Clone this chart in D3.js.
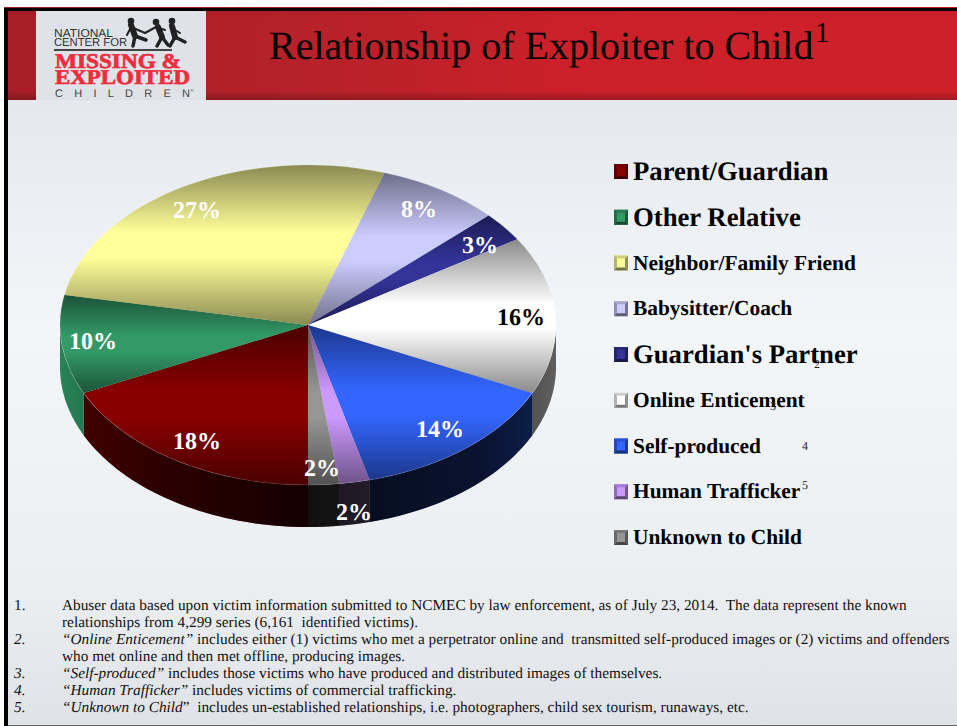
<!DOCTYPE html>
<html>
<head>
<meta charset="utf-8">
<script src="https://cdnjs.cloudflare.com/ajax/libs/d3/7.8.5/d3.min.js"></script>
<style>
html, body { margin: 0; padding: 0; background: #fff; overflow: hidden; }
svg { display: block; }
text { font-family: "Liberation Serif", serif; text-rendering: geometricPrecision; }
</style>
</head>
<body>
<script>
var categories = ["Parent/Guardian", "Other Relative", "Neighbor/Family Friend", "Babysitter/Coach",
  "Guardian's Partner", "Online Enticement", "Self-produced", "Human Trafficker", "Unknown to Child"]
var values = [18, 10, 27, 8, 3, 16, 14, 2, 2]
var topColors = ["#880000", "#339966", "#ffff99", "#ccccff", "#333399", "#ffffff", "#3366ff", "#cc99ff", "#969696"]
var sideColors = ["#4a0000", "#2a8a5c", "#8f8c4c", "#6e6e94", "#16164e", "#6a6a6a", "#12265e", "#5f4a70", "#3c3c3c"]
var legendSizes = [26.7, 26.7, 21.4, 21.4, 26.7, 21.4, 21.4, 21.4, 21.4]
var labelPos = [[197, 441], [93, 341], [197, 210], [419, 209], [480, 245], [521, 317], [440, 429], [322, 468], [354, 512]]
var superscripts = ["2", "3", "4", "5"]
var superPos = [[817, 368], [773, 410], [805, 450], [805, 489]]
var noteNums = ["1.", "", "2.", "", "3.", "4.", "5."]
var noteLines = [
  [["", "Abuser data based upon victim information submitted to NCMEC by law enforcement, as of July 23, 2014.  The data represent the known"]],
  [["", "relationships from 4,299 series (6,161  identified victims)."]],
  [["i", "\u201COnline Enticement\u201D"], ["", " includes either (1) victims who met a perpetrator online and  transmitted self-produced images or (2) victims and offenders"]],
  [["", "who met online and then met offline, producing images."]],
  [["i", "\u201CSelf-produced\u201D"], ["", " includes those victims who have produced and distributed images of themselves."]],
  [["i", "\u201CHuman Trafficker\u201D"], ["", " includes victims of commercial trafficking."]],
  [["i", "\u201CUnknown to Child"], ["", "\u201D  includes un-established relationships, i.e. photographers, child sex tourism, runaways, etc."]]
]

var width = 957, height = 726
var cx = 308, cy = 325, rx = 248, ry = 160, depth = 42

var svg = d3.select("body").append("svg").attr("width", width).attr("height", height)
var defs = svg.append("defs")

function grad(id, dir, stops) {
  var g = defs.append("linearGradient").attr("id", id)
    .attr("x1", 0).attr("y1", 0).attr("x2", dir == "h" ? 1 : 0).attr("y2", dir == "h" ? 0 : 1)
  stops.forEach(function(s) {
    g.append("stop").attr("offset", s[0]).attr("stop-color", s[1]).attr("stop-opacity", s[2] == null ? 1 : s[2])
  })
}
grad("bg", "v", [[0, "#dfe3e8"], [0.45, "#f3f6f9"], [0.8, "#eceff2"], [1, "#dfe2e6"]])
grad("red", "h", [[0, "#a81e26"], [0.3, "#b52129"], [0.6, "#cb2029"], [1, "#cf2029"]])
grad("redB", "v", [[0, "#000", 0.06], [0.12, "#000", 0], [0.9, "#000", 0], [1, "#000", 0.22]])
grad("faceShade", "v", [[0, "#000", 0.46], [0.42, "#000", 0], [0.58, "#000", 0], [1, "#000", 0.46]])
grad("sideShade", "h", [[0, "#000", 0.05], [0.2, "#000", 0.4], [0.5, "#000", 0.72], [0.85, "#000", 0.5], [1, "#000", 0.1]])

// slide background and header
svg.append("rect").attr("x", 0).attr("y", 7).attr("width", width).attr("height", 719).attr("fill", "url(#bg)")
svg.append("rect").attr("x", 0).attr("y", 7).attr("width", width).attr("height", 93).attr("fill", "url(#red)")
svg.append("rect").attr("x", 0).attr("y", 7).attr("width", width).attr("height", 93).attr("fill", "url(#redB)")
svg.append("rect").attr("x", 36).attr("y", 8).attr("width", 170).attr("height", 92).attr("fill", "#dfe3e8")
svg.append("rect").attr("x", 4).attr("y", 8).attr("width", 953).attr("height", 3).attr("fill", "#000")
svg.append("rect").attr("x", 4).attr("y", 8).attr("width", 4).attr("height", 718).attr("fill", "#000")
svg.append("rect").attr("x", 0).attr("y", 7).attr("width", 4).attr("height", 719).attr("fill", "#fff")
svg.append("rect").attr("x", 8).attr("y", 725).attr("width", 949).attr("height", 1).attr("fill", "#666")

svg.append("text").attr("x", 269).attr("y", 59).attr("font-size", 40).attr("fill", "#000")
  .text("Relationship of Exploiter to Child")
svg.append("text").attr("x", 815).attr("y", 42).attr("font-size", 29).attr("fill", "#000").text("1")

// logo
var logo = svg.append("g")
function sans(x, y, size, t, w) {
  logo.append("text").attr("x", x).attr("y", y).attr("font-size", size).attr("fill", "#333")
    .style("font-family", "'Liberation Sans', sans-serif")
    .attr("textLength", w).attr("lengthAdjust", "spacingAndGlyphs").text(t)
}
sans(54, 37, 11.6, "NATIONAL", 59)
sans(54, 46, 11.6, "CENTER FOR", 73)
logo.append("rect").attr("x", 54).attr("y", 49).attr("width", 118).attr("height", 2).attr("fill", "#444")
logo.append("text").attr("x", 55).attr("y", 68).attr("font-size", 21).attr("font-weight", "bold")
  .attr("fill", "#ee2c3c").attr("stroke", "#ee2c3c").attr("stroke-width", 0.7)
  .attr("textLength", 126).attr("lengthAdjust", "spacingAndGlyphs").text("MISSING &")
logo.append("text").attr("x", 55).attr("y", 84).attr("font-size", 21).attr("font-weight", "bold")
  .attr("fill", "#ee2c3c").attr("stroke", "#ee2c3c").attr("stroke-width", 0.7)
  .attr("textLength", 135).attr("lengthAdjust", "spacingAndGlyphs").text("EXPLOITED")
logo.append("text").attr("x", 55).attr("y", 97).attr("font-size", 11).attr("fill", "#444")
  .style("font-family", "'Liberation Sans', sans-serif")
  .attr("textLength", 135).attr("lengthAdjust", "spacing").text("C H I L D R E N")
logo.append("text").attr("x", 190).attr("y", 92).attr("font-size", 5).attr("fill", "#444").text("\u00AE")

var kidHeads = [[131, 21], [156, 22], [172, 21]]
var kidLimbs = [
  [[[131, 25], [135, 36]], 6], [[[135, 36], [133, 46]], 3.5], [[[135, 36], [146, 40]], 3.5], [[[127, 35], [131, 27], [145, 33]], 2],
  [[[158, 27], [162, 37]], 6], [[[162, 37], [157, 46]], 3.5], [[[162, 37], [168, 45]], 3.5], [[[145, 33], [156, 27], [165, 30]], 2],
  [[[172, 26], [175, 37]], 6], [[[175, 37], [170, 46]], 3.5], [[[175, 37], [185, 42]], 3.5], [[[172, 28], [180, 33]], 2]
]
kidHeads.forEach(function(h) {
  logo.append("circle").attr("cx", h[0]).attr("cy", h[1]).attr("r", 3.3).attr("fill", "#222")
})
kidLimbs.forEach(function(l) {
  logo.append("path").attr("fill", "none").attr("stroke", "#222").attr("stroke-width", l[1])
    .attr("stroke-linecap", "round").attr("stroke-linejoin", "round").attr("d", d3.line()(l[0]))
})

// 3d pie
var pie = d3.pie().sort(null).startAngle(Math.PI).endAngle(3 * Math.PI)
var arcs = pie(values)
var arc = d3.arc().innerRadius(0).outerRadius(rx)
var yScale = d3.scaleLinear().domain([-rx, rx]).range([cy - ry, cy + ry])
var xScale = d3.scaleLinear().domain([-rx, rx]).range([cx - rx, cx + rx])

var rimArea = d3.area()
  .x(function(a) { return xScale(rx * Math.sin(a)) })
  .y0(function(a) { return yScale(-rx * Math.cos(a)) })
  .y1(function(a) { return yScale(-rx * Math.cos(a)) + depth })

// lower half of the rim only, cos(a) < 0
function wall(d) {
  var a0 = Math.max(d.startAngle, Math.PI / 2)
  var a1 = Math.min(d.endAngle, 3 * Math.PI / 2)
  if (d.startAngle >= 3 * Math.PI / 2) {
    a0 = Math.max(d.startAngle, 5 * Math.PI / 2)
    a1 = Math.min(d.endAngle, 7 * Math.PI / 2)
  }
  if (a1 <= a0) return null
  return rimArea(d3.range(0, 41).map(function(i) { return a0 + (a1 - a0) * i / 40 }))
}

var pieG = svg.append("g")
pieG.selectAll("path.wall").data(arcs).enter().append("path").attr("class", "wall")
  .attr("d", wall).attr("fill", function(d, i) { return sideColors[i] })

// shade the rim, darkest near the front
pieG.append("path")
  .attr("d", rimArea(d3.range(0, 81).map(function(i) { return Math.PI / 2 + Math.PI * i / 80 })))
  .attr("fill", "url(#sideShade)")

var face = pieG.append("g").attr("transform", "translate(" + cx + "," + cy + ") scale(1," + ry / rx + ")")
face.selectAll("path.top").data(arcs).enter().append("path").attr("class", "top")
  .attr("d", arc).attr("fill", function(d, i) { return topColors[i] })
// every slice darkens towards the top and bottom of its own box
face.selectAll("path.shade").data(arcs).enter().append("path").attr("class", "shade")
  .attr("d", arc).attr("fill", "url(#faceShade)")

pieG.append("ellipse").attr("cx", cx).attr("cy", cy).attr("rx", rx).attr("ry", ry)
  .attr("fill", "none").attr("stroke", "#fff").attr("stroke-opacity", 0.12).attr("stroke-width", 1)

// data labels
svg.append("g").selectAll("text").data(values).enter().append("text")
  .attr("x", function(d, i) { return labelPos[i][0] }).attr("y", function(d, i) { return labelPos[i][1] + 8 })
  .attr("text-anchor", "middle").attr("font-size", 24).attr("font-weight", "bold")
  .attr("fill", function(d, i) { return i == 5 ? "#000" : "#fff" })
  .text(function(d) { return d + "%" })

// legend
var legY = d3.scalePoint().domain(categories).range([171, 537])
var leg = svg.append("g").selectAll("g").data(categories).enter().append("g")
  .attr("transform", function(d) { return "translate(614," + legY(d) + ")" })
// bevelled swatch: flat middle with four shaded sides
var swatchSides = [
  [[[0, -7], [14, -7], [11, -4], [3, -4]], 0.6],
  [[[0, -7], [3, -4], [3, 5], [0, 8]], 1.0],
  [[[14, -7], [14, 8], [11, 5], [11, -4]], 1.6],
  [[[0, 8], [3, 5], [11, 5], [14, 8]], 2.2]
]
leg.append("rect").attr("x", 0).attr("y", -7).attr("width", 14).attr("height", 15)
  .attr("fill", function(d, i) { return topColors[i] })
swatchSides.forEach(function(s) {
  leg.append("path").attr("d", d3.line()(s[0]) + "Z")
    .attr("fill", function(d, i) { return d3.color(topColors[i]).darker(s[1]).formatHex() })
})
leg.append("text").attr("x", 19).attr("y", function(d, i) { return legendSizes[i] > 24 ? 9 : 7 })
  .attr("font-size", function(d, i) { return legendSizes[i] }).attr("font-weight", "bold").attr("fill", "#000")
  .text(function(d) { return d })

svg.append("g").selectAll("text").data(superscripts).enter().append("text")
  .attr("x", function(d, i) { return superPos[i][0] })
  .attr("y", function(d, i) { return superPos[i][1] })
  .attr("font-size", 12).attr("text-anchor", "middle").attr("fill", "#222")
  .text(function(d) { return d })

// footnotes
var noteY = d3.scalePoint().domain(d3.range(noteLines.length)).range([610, 712])
var notes = svg.append("g").attr("font-size", 15.3).attr("fill", "#111")
noteLines.forEach(function(line, i) {
  notes.append("text").attr("x", 14).attr("y", noteY(i)).attr("font-style", i > 1 ? "italic" : "normal").text(noteNums[i])
  var t = notes.append("text").attr("x", 62).attr("y", noteY(i)).attr("xml:space", "preserve")
  line.forEach(function(part) {
    t.append("tspan").attr("font-style", part[0] == "i" ? "italic" : "normal").text(part[1])
  })
})
</script>
</body>
</html>
